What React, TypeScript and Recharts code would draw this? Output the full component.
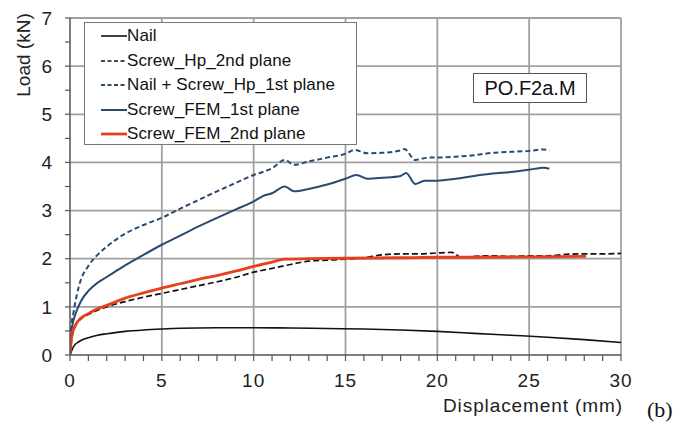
import React from 'react';
import { LineChart, Line, XAxis, YAxis, CartesianGrid } from 'recharts';

const nailX = [0, 0.2, 0.5, 1, 1.5, 2, 3, 4, 5, 6, 8, 10, 12, 14, 16, 18, 20, 22, 24, 26, 28, 30];
const nailY = [0, 0.18, 0.28, 0.36, 0.41, 0.44, 0.49, 0.52, 0.54, 0.555, 0.565, 0.565, 0.56, 0.55, 0.54, 0.52, 0.49, 0.45, 0.41, 0.37, 0.32, 0.26];

const hp2X = [0, 0.1, 0.3, 0.6, 1, 1.5, 2, 3, 4, 5, 6, 7, 8, 9, 10, 11, 12, 13, 14, 15, 16, 17, 18, 19, 20, 20.8, 21.3, 22, 23, 24, 25, 26, 27, 28, 29, 30];
const hp2Y = [0, 0.35, 0.6, 0.75, 0.84, 0.93, 1.0, 1.11, 1.2, 1.28, 1.36, 1.44, 1.52, 1.61, 1.72, 1.8, 1.88, 1.95, 1.97, 1.99, 2.02, 2.08, 2.1, 2.1, 2.12, 2.13, 2.03, 2.05, 2.06, 2.05, 2.06, 2.06, 2.09, 2.1, 2.1, 2.11];

const nsX = [0, 0.05, 0.2, 0.5, 1, 1.5, 2, 3, 4, 5, 6, 7, 8, 9, 10, 10.5, 11, 11.7, 12.2, 13, 14, 15, 15.5, 16.2, 17, 18, 18.2, 18.8, 19.5, 20, 21, 22, 23, 24, 25, 25.8, 26.1];
const nsY = [0, 0.5, 0.9, 1.45, 1.85, 2.08, 2.25, 2.52, 2.7, 2.85, 3.04, 3.22, 3.4, 3.57, 3.74, 3.8, 3.88, 4.05, 3.95, 4.02, 4.1, 4.18, 4.26, 4.19, 4.2, 4.25, 4.28, 4.05, 4.1, 4.1, 4.12, 4.15, 4.2, 4.22, 4.24, 4.27, 4.25];

const fem1X = [0, 0.1, 0.3, 0.6, 1, 1.5, 2, 3, 4, 5, 6, 7, 8, 9, 10, 10.5, 11, 11.7, 12.2, 13, 14, 15, 15.6, 16.2, 17, 18, 18.3, 18.8, 19.3, 20, 21, 22, 23, 24, 25, 25.8, 26.1];
const fem1Y = [0, 0.55, 0.85, 1.12, 1.33, 1.5, 1.62, 1.86, 2.08, 2.29, 2.48, 2.67, 2.85, 3.02, 3.19, 3.3, 3.36, 3.5, 3.4, 3.45, 3.54, 3.66, 3.74, 3.66, 3.68, 3.72, 3.78, 3.55, 3.62, 3.62, 3.66, 3.72, 3.77, 3.8, 3.85, 3.89, 3.87];

const fem2X = [0, 0.1, 0.3, 0.6, 1, 1.5, 2, 3, 4, 5, 6, 7, 8, 9, 10, 11, 11.7, 13, 15, 18, 20, 22, 25, 28.1];
const fem2Y = [0, 0.4, 0.62, 0.77, 0.86, 0.96, 1.03, 1.18, 1.29, 1.39, 1.48, 1.57, 1.65, 1.74, 1.84, 1.93, 1.99, 2.0, 2.01, 2.02, 2.03, 2.03, 2.04, 2.05];

const xTicks = Array.from({ length: 31 }, (_, i) => i);
const yTicks = Array.from({ length: 15 }, (_, i) => i * 0.5);
const xGrid = [5, 10, 15, 20, 25, 30];
const yGrid = [1, 2, 3, 4, 5, 6, 7];

const zip = (xs: number[], ys: number[]) => xs.map((x, i) => ({ x, y: ys[i] }));

const BLUE = '#2b4a6f';
const RED = '#e8401c';

const series = [
  { name: 'Nail', data: zip(nailX, nailY), color: '#111111', width: 1.6, dash: undefined as string | undefined },
  { name: 'Screw_Hp_2nd plane', data: zip(hp2X, hp2Y), color: '#111111', width: 1.7, dash: '6 3' },
  { name: 'Nail + Screw_Hp_1st plane', data: zip(nsX, nsY), color: BLUE, width: 2, dash: '5 3' },
  { name: 'Screw_FEM_1st plane', data: zip(fem1X, fem1Y), color: BLUE, width: 2, dash: undefined },
  { name: 'Screw_FEM_2nd plane', data: zip(fem2X, fem2Y), color: RED, width: 2.8, dash: undefined },
];

const FONT = '"Liberation Sans", Arial, sans-serif';

const LegendBox = () => (
  <div
    style={{
      position: 'absolute',
      left: 84,
      top: 22,
      width: 273,
      height: 123,
      background: '#fff',
      border: '1.5px solid #777',
      boxSizing: 'border-box',
      paddingTop: 1,
      fontFamily: FONT,
      fontSize: 17,
      color: '#111',
    }}
  >
    {series.map((s) => (
      <div key={s.name} style={{ display: 'flex', alignItems: 'center', height: 24.5, paddingLeft: 16 }}>
        <svg width={26} height={10} style={{ display: 'block' }}>
          <line x1={0} x2={26} y1={5} y2={5} stroke={s.color} strokeWidth={s.width} strokeDasharray={s.dash ? '4 2.5' : undefined} />
        </svg>
        <span style={{ whiteSpace: 'nowrap', letterSpacing: 0.1 }}>{s.name}</span>
      </div>
    ))}
  </div>
);

export default function App() {
  return (
    <div style={{ position: 'absolute', left: 0, top: 0, width: 678, height: 423, background: '#fff' }}>
      <LineChart width={678} height={423} margin={{ top: 18, right: 57, left: 10, bottom: 38 }}>
        <CartesianGrid
          stroke="#a0a0a0"
          strokeWidth={1.8}
          horizontalValues={yGrid}
          verticalValues={xGrid}
        />
        <XAxis
          type="number"
          dataKey="x"
          domain={[0, 30]}
          ticks={xTicks}
          interval={0}
          tickFormatter={(v: number) => (v % 5 === 0 ? String(v) : '')}
          tickSize={6}
          tickMargin={13}
          height={30}
          axisLine={{ stroke: '#555', strokeWidth: 1.5 }}
          tickLine={{ stroke: '#555', strokeWidth: 1.2 }}
          tick={{ fill: '#222', fontSize: 19, fontFamily: FONT, letterSpacing: 1 }}
          allowDataOverflow
        />
        <YAxis
          type="number"
          domain={[0, 7]}
          ticks={yTicks}
          interval={0}
          tickFormatter={(v: number) => (Number.isInteger(v) ? String(v) : '')}
          tickSize={5}
          tickMargin={13}
          width={60}
          axisLine={{ stroke: '#555', strokeWidth: 1.5 }}
          tickLine={{ stroke: '#555', strokeWidth: 1.2 }}
          tick={{ fill: '#222', fontSize: 19, fontFamily: FONT }}
        />
        {series.map((s) => (
          <Line
            key={s.name}
            data={s.data}
            dataKey="y"
            name={s.name}
            type="monotone"
            stroke={s.color}
            strokeWidth={s.width}
            strokeDasharray={s.dash}
            dot={false}
            activeDot={false}
            isAnimationActive={false}
          />
        ))}
      </LineChart>
      <LegendBox />
      <div
        style={{
          position: 'absolute',
          left: 24,
          top: 55,
          transform: 'translate(-50%, -50%) rotate(-90deg)',
          fontFamily: FONT,
          fontSize: 19,
          color: '#222',
          whiteSpace: 'nowrap',
        }}
      >
        Load (kN)
      </div>
      <div
        style={{
          position: 'absolute',
          right: 678 - 623,
          top: 395,
          fontFamily: FONT,
          fontSize: 19,
          letterSpacing: 0.9,
          color: '#222',
          whiteSpace: 'nowrap',
        }}
      >
        Displacement (mm)
      </div>
      <div
        style={{
          position: 'absolute',
          left: 647,
          top: 397,
          fontFamily: '"Liberation Serif", "Times New Roman", serif',
          fontSize: 22,
          color: '#111',
        }}
      >
        (b)
      </div>
      <div
        style={{
          position: 'absolute',
          left: 473,
          top: 73,
          width: 114,
          height: 30,
          border: '1.5px solid #555',
          boxSizing: 'border-box',
          background: '#fff',
          display: 'flex',
          alignItems: 'center',
          justifyContent: 'center',
          fontFamily: FONT,
          fontSize: 20,
          color: '#111',
        }}
      >
        PO.F2a.M
      </div>
    </div>
  );
}
